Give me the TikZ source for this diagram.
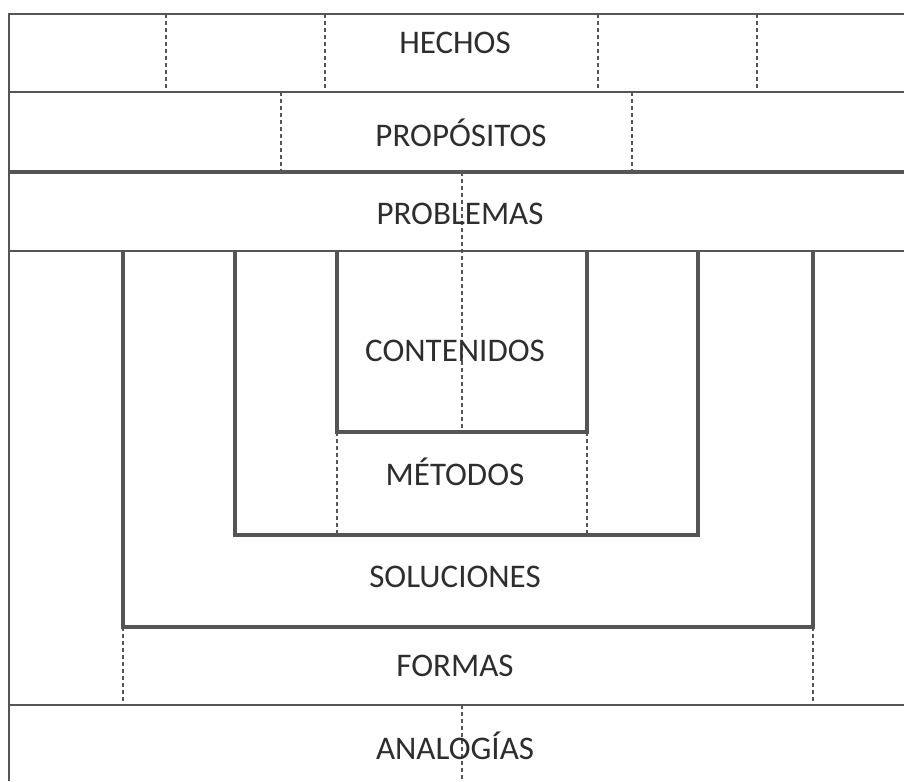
\documentclass[tikz,border=0pt]{standalone}
\usepackage{fontspec}
\setmainfont{Carlito}
\definecolor{ln}{HTML}{555555}
\definecolor{tx}{HTML}{2E2E2E}
\begin{document}
\begin{tikzpicture}[x=1pt,y=-1pt,
  frame/.style={draw=ln,line width=2.8pt},
  thick frame/.style={draw=ln,line width=4.5pt},
  ushape/.style={draw=ln,line width=3.5pt,line join=miter},
  dash line/.style={draw=ln,line width=1.8pt,dash pattern=on 4pt off 3pt},
  lbl/.style={text=tx,font=\fontsize{33}{38}\selectfont,inner sep=0pt}]
\useasboundingbox[fill=white] (0,0) rectangle (904,781);
% main frame
\draw[frame] (904,14) -- (9,14) -- (9,781);
\draw[frame] (9,92) -- (904,92);
\draw[thick frame] (9,172) -- (904,172);
\draw[frame] (9,251) -- (904,251);
\draw[frame] (9,705) -- (904,705);
% dashed separators in HECHOS row
\foreach \x in {166,325,598,757} \draw[dash line] (\x,14) -- (\x,92);
% dashed separators in PROPOSITOS row
\foreach \x in {281,632} \draw[dash line] (\x,92) -- (\x,172);
% central dashed line
\draw[dash line] (462,172) -- (462,432);
\draw[dash line] (462,705) -- (462,781);
% U shapes
\draw[ushape] (123,251) -- (123,627) -- (813,627) -- (813,251);
\draw[ushape] (235,251) -- (235,535) -- (698,535) -- (698,251);
\draw[ushape] (337,251) -- (337,432) -- (587,432) -- (587,251);
% dashed sides of METODOS
\draw[dash line] (337,432) -- (337,535);
\draw[dash line] (587,432) -- (587,535);
% dashed sides of FORMAS
\draw[dash line] (123,627) -- (123,705);
\draw[dash line] (813,627) -- (813,705);
% labels
\node[lbl] (hechos) at (455,43) {HECHOS};
\node[lbl] (propositos) at (461,133) {PROPÓSITOS};
\node[lbl] (problemas) at (460,214) {PROBLEMAS};
\node[lbl] (contenidos) at (455,351) {CONTENIDOS};
\node[lbl] (metodos) at (455,472) {MÉTODOS};
\node[lbl] (soluciones) at (455,577) {SOLUCIONES};
\node[lbl] (formas) at (455,666) {FORMAS};
\node[lbl] (analogias) at (455,746) {ANALOGÍAS};
\end{tikzpicture}
\end{document}
